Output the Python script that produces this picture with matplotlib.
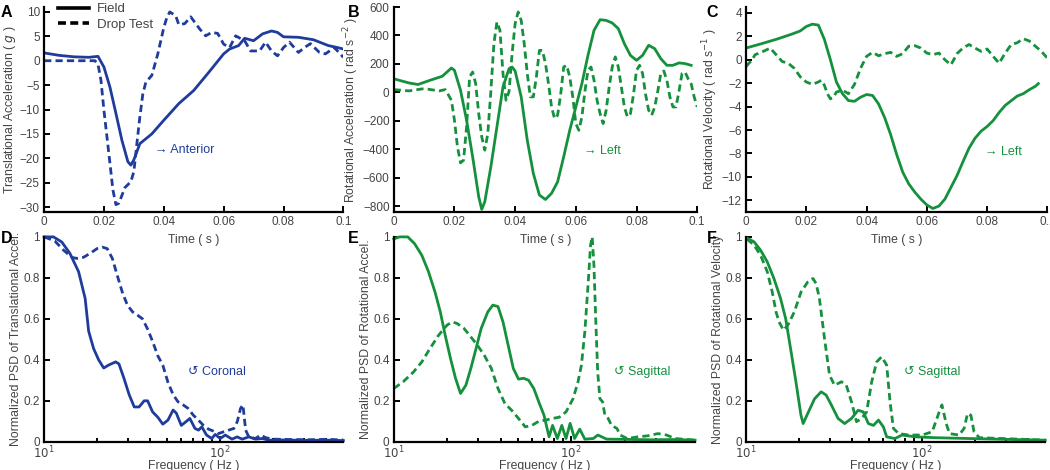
import matplotlib
matplotlib.use("Agg")
import matplotlib.pyplot as plt
from matplotlib.lines import Line2D
from matplotlib.ticker import FixedLocator, NullFormatter

plt.rcParams['font.family'] = ['Liberation Sans', 'DejaVu Sans']

# ---- data ----
# A: translational acceleration (g)
a_field_t = [0, 0.005, 0.01, 0.015, 0.018, 0.02, 0.022, 0.024, 0.026, 0.028, 0.029, 0.03, 0.032, 0.034,
             0.036, 0.04, 0.045, 0.05, 0.055, 0.06, 0.062, 0.065, 0.067, 0.07, 0.073, 0.076, 0.078, 0.08,
             0.085, 0.09, 0.095, 0.098, 0.1]
a_field = [1.6, 1.1, 0.8, 0.7, 0.9, -1.3, -5.4, -10.8, -16.3, -20.7, -21.4, -20.3, -17, -16,
           -15, -12.2, -8.8, -6.1, -2.4, 1.4, 2.4, 3.1, 4.6, 4.1, 5.5, 6.1, 5.8, 4.9,
           4.8, 4.3, 3.1, 2.7, 2.4]
a_drop_t = [0, 0.017, 0.018, 0.019, 0.02, 0.021, 0.022, 0.023, 0.024, 0.025, 0.027, 0.029, 0.03, 0.031,
            0.032, 0.033, 0.034, 0.036, 0.038, 0.04, 0.041, 0.042, 0.044, 0.045, 0.047, 0.049, 0.052,
            0.054, 0.056, 0.058, 0.06, 0.062, 0.064, 0.067, 0.069, 0.072, 0.074, 0.076, 0.078, 0.08,
            0.082, 0.085, 0.087, 0.089, 0.092, 0.094, 0.097, 0.1]
a_drop = [0, 0, -0.7, -4, -10.2, -15.6, -21, -26.5, -29.5, -29.2, -26, -24.8, -22.7, -17,
          -11.5, -6.8, -4.4, -3, 1.4, 6.8, 8.8, 10, 9.2, 7.4, 7.6, 9, 6.5,
          5.1, 5.8, 5.6, 3.4, 2.7, 5.1, 4.1, 2, 2, 3.8, 2, 1, 2.7,
          3.8, 1.7, 2.7, 3.5, 1.7, 1.4, 2.7, 0.7]

# B: rotational acceleration (rad s^-2)
b_field_t = [0, 0.005, 0.008, 0.012, 0.016, 0.019, 0.02, 0.022, 0.024, 0.026, 0.028, 0.029, 0.03, 0.032,
             0.034, 0.036, 0.038, 0.039, 0.04, 0.042, 0.044, 0.046, 0.048, 0.05, 0.052, 0.054, 0.056,
             0.058, 0.06, 0.062, 0.064, 0.066, 0.068, 0.07, 0.072, 0.074, 0.076, 0.078, 0.08, 0.082,
             0.084, 0.086, 0.088, 0.09, 0.092, 0.094, 0.096, 0.098]
b_field = [95, 66, 55, 85, 113, 171, 155, 15, -196, -454, -735, -824, -770, -524,
           -243, 38, 167, 178, 150, -32, -337, -571, -723, -754, -711, -630, -454,
           -267, -103, 61, 260, 436, 511, 506, 488, 448, 342, 260, 225, 260,
           331, 307, 237, 190, 190, 207, 202, 190]
b_drop_t = [0, 0.005, 0.01, 0.015, 0.017] + [round(0.019 + 0.001 * i, 3) for i in range(82)]
b_drop = [19, 10, 26, 10, 19,
          -56, -196, -384, -496, -478, -243, 108, 143, 61, -150,
          -314, -407, -290, 7, 342, 495, 436, 132, -56, 7,
          272, 483, 565, 506, 342, 132, -32, -32, 108, 295,
          295, 202, 61, -103, -185, -161, -16, 178, 190, 108,
          -32, -220, -267, -173, 7, 155, 178, 85, -56, -150,
          -220, -126, 38, 178, 249, 178, 38, -103, -173, -150,
          -16, 155, 190, 132, -16, -126, -161, -103, 7, 132,
          150, 85, -32, -103, -103, 7, 132, 143, 96, 61,
          -32, -103]
b_drop_t = b_drop_t[:len(b_drop)]

# C: rotational velocity (rad s^-1)
c_field_t = [0, 0.005, 0.01, 0.015, 0.018] + [round(0.02 + 0.002 * i, 3) for i in range(39)] + [0.097]
c_field = [1.0, 1.36, 1.74, 2.17, 2.46,
           2.84, 3.04, 2.96, 1.74, 0, -1.9, -2.9, -3.49, -3.55, -3.2,
           -2.97, -3.05, -3.78, -4.94, -6.4, -8.1, -9.6, -10.6, -11.3, -11.9,
           -12.4, -12.7, -12.5, -11.9, -10.9, -9.9, -8.7, -7.55, -6.7, -6.1,
           -5.7, -5.2, -4.5, -3.9, -3.5, -3.1, -2.9, -2.56, -2.27, -2.04]
c_field_t = c_field_t[:len(c_field)]
c_drop_t = [0, 0.002, 0.003, 0.005, 0.007, 0.008, 0.01, 0.012, 0.014, 0.016, 0.018, 0.02, 0.022, 0.024,
            0.025, 0.026, 0.027, 0.028, 0.029, 0.03] + [round(0.032 + 0.002 * i, 3) for i in range(35)]
c_drop = [-0.59, 0, 0.43, 0.63, 0.87, 1.0, 0.43, -0.15, -0.3, -0.73, -1.46, -1.9, -2.1, -1.9,
          -1.75, -2.18, -2.9, -3.34, -3.2, -2.76,
          -2.6, -2.9, -2.1, -0.73, 0.29, 0.63, 0.34, 0.52, 0.63, 0.29,
          0.52, 1.16, 1.2, 1.0, 0.57, 0.43, 0.57, 0, -0.44, 0.52,
          1.0, 1.3, 1.0, 0.72, 0.92, 0.29, -0.3, 0.57, 1.3, 1.45,
          1.8, 1.6, 1.16, 0.72, 0.14]
c_drop_t = c_drop_t[:len(c_drop)]

# D: normalized PSD of translational acceleration
d_field_f = [10, 11.3, 12.6, 14, 15.7, 17.1, 17.9, 19.1, 20.4, 21.8, 23.3, 25.5, 26.6, 28.4, 30.4, 32.5,
             34.6, 37, 38.7, 41.3, 44.2, 47.2, 50.5, 54, 56.3, 60.1, 64.3, 67.2, 71.9, 75.3, 78.6, 83.6,
             89.5, 93.6, 100, 106.8, 116.6, 124.7, 133.3, 145.3, 158.6, 173, 189, 230, 300, 400, 500]
d_field = [1.0, 1.0, 0.975, 0.92, 0.83, 0.70, 0.54, 0.455, 0.40, 0.36, 0.375, 0.39, 0.38, 0.31, 0.23, 0.17,
           0.17, 0.20, 0.20, 0.146, 0.12, 0.086, 0.106, 0.155, 0.14, 0.08, 0.1, 0.114, 0.065, 0.057, 0.073,
           0.033, 0.016, 0.036, 0.016, 0.033, 0.013, 0.024, 0.013, 0.024, 0.013, 0.016, 0.008, 0.009,
           0.007, 0.008, 0.006]
d_drop_f = [10, 11.5, 12.9, 14.4, 15.3, 16.7, 18.3, 20, 21.4, 22.8, 24.4, 26, 27.8, 29.7, 31.8, 33.9,
            36.2, 38.7, 41.3, 44.2, 47.2, 50.5, 54, 57.6, 61.6, 65.7, 70.3, 75.1, 80.3, 85.7, 91.6,
            97.9, 104.6, 111.8, 119.5, 124.9, 130.4, 134.5, 139.4, 145.3, 158.6, 169.7, 181.3, 198.3,
            250, 320, 400, 500]
d_drop = [1.0, 0.98, 0.935, 0.90, 0.895, 0.90, 0.92, 0.943, 0.95, 0.943, 0.895, 0.813, 0.73, 0.667,
          0.634, 0.618, 0.60, 0.55, 0.49, 0.42, 0.374, 0.29, 0.23, 0.195, 0.18, 0.163, 0.13, 0.106,
          0.08, 0.062, 0.052, 0.04, 0.049, 0.057, 0.065, 0.098, 0.163, 0.18, 0.057, 0.024, 0.016,
          0.033, 0.02, 0.013, 0.011, 0.01, 0.012, 0.009]

# E: normalized PSD of rotational acceleration
e_field_f = [10, 10.8, 12, 13.1, 14.4, 15.7, 17.1, 18.3, 19.5, 20.9, 22.3, 23.8, 25.5, 27.2, 29.1, 31.1,
             33.9, 36.2, 38.7, 41.3, 44.2, 47.2, 50.5, 54, 57.6, 61.6, 65.7, 70.3, 75.1, 78.6, 83.6,
             88.6, 93.6, 98.7, 104.6, 111.8, 119.5, 133.3, 141.5, 158.6, 200, 280, 380, 500]
e_field = [0.99, 1.0, 1.0, 0.967, 0.91, 0.83, 0.73, 0.634, 0.52, 0.406, 0.31, 0.236, 0.276, 0.358,
           0.455, 0.553, 0.634, 0.667, 0.66, 0.585, 0.47, 0.358, 0.306, 0.31, 0.30, 0.26, 0.195, 0.13,
           0.024, 0.08, 0.016, 0.08, 0.016, 0.09, 0.016, 0.062, 0.013, 0.016, 0.033, 0.013, 0.012,
           0.01, 0.011, 0.008]
e_drop_f = [10, 11.3, 12.9, 14.4, 16, 17.9, 20, 21.4, 22.8, 24.9, 27.2, 29.7, 32.5, 35.5, 38.7, 42.3,
            46.2, 50.5, 55.1, 60.1, 65.7, 71.9, 78.6, 85.7, 93.6, 102.5, 109.2, 114.3, 119.5, 124.9,
            128.7, 131.5, 134.5, 137.6, 141.2, 145.3, 150.5, 155, 161.7, 169, 181.3, 189, 207, 237,
            269, 309, 345, 385, 500]
e_drop = [0.26, 0.293, 0.34, 0.39, 0.455, 0.52, 0.57, 0.585, 0.577, 0.553, 0.512, 0.47, 0.42, 0.358,
          0.26, 0.187, 0.154, 0.114, 0.073, 0.08, 0.1, 0.106, 0.114, 0.12, 0.146, 0.21, 0.29, 0.374,
          0.537, 0.78, 0.96, 1.0, 0.86, 0.60, 0.34, 0.21, 0.195, 0.13, 0.114, 0.08, 0.065, 0.033,
          0.016, 0.024, 0.029, 0.04, 0.033, 0.016, 0.008]

# F: normalized PSD of rotational velocity
f_field_f = [10.1, 11.1, 12.1, 13.2, 14.4, 15.7, 16.8, 17.9, 19.2, 20.5, 21.1, 22.4, 24.5, 26.7, 28.5,
             30.5, 33.3, 36.3, 39.7, 43.3, 46.3, 49.5, 52.9, 56.5, 60.2, 62.9, 70, 76.9, 92, 119, 185, 300,
             500]
f_field = [0.995, 0.976, 0.935, 0.878, 0.797, 0.70, 0.60, 0.455, 0.293, 0.13, 0.089, 0.138, 0.21, 0.244,
           0.228, 0.18, 0.114, 0.089, 0.114, 0.154, 0.146, 0.089, 0.08, 0.106, 0.073, 0.024, 0.016,
           0.033, 0.024, 0.02, 0.016, 0.012, 0.008]
f_drop_f = [10.1, 11.1, 12.1, 13.2, 14.1, 14.8, 15.4, 16.3, 17.3, 18.8, 20.5, 22.4, 24, 25, 26.1, 27.9,
            29.8, 31.8, 34.8, 37.1, 39.7, 42.4, 45.3, 48.4, 51.7, 55.2, 58.9, 62.9, 65.7, 68.7, 73.6,
            83.8, 100, 114, 125, 129.5, 136.9, 143, 162, 173, 181, 189, 197, 211, 286, 500]
f_drop = [0.99, 0.96, 0.91, 0.83, 0.73, 0.634, 0.585, 0.545, 0.57, 0.634, 0.73, 0.78, 0.797, 0.772,
          0.70, 0.504, 0.325, 0.276, 0.293, 0.276, 0.195, 0.098, 0.114, 0.146, 0.293, 0.39, 0.415,
          0.374, 0.195, 0.065, 0.04, 0.033, 0.033, 0.049, 0.146, 0.18, 0.089, 0.04, 0.033, 0.065,
          0.138, 0.13, 0.049, 0.02, 0.016, 0.008]

time_ticks = [0, 0.02, 0.04, 0.06, 0.08, 0.1]
time_labels = ['0', '0.02', '0.04', '0.06', '0.08', '0.1']
a_yticks = [-30, -25, -20, -15, -10, -5, 0, 5, 10]
b_yticks = [-800, -600, -400, -200, 0, 200, 400, 600]
c_yticks = [-12, -10, -8, -6, -4, -2, 0, 2, 4]
psd_yticks = [0, 0.2, 0.4, 0.6, 0.8, 1]
psd_ylabels = ['0', '0.2', '0.4', '0.6', '0.8', '1']

blue = '#1f3c9c'
green = '#15913d'
txt = '#444444'
lw = 2.0
dash = (2.6, 1.5)
tick_fs = 8.5
lab_fs = 8.8
ann_fs = 9

fig = plt.figure(figsize=(10.5, 4.7), dpi=100)

def style(ax):
    ax.patch.set_visible(False)
    for s in ['top', 'right']:
        ax.spines[s].set_visible(False)
    for s in ['left', 'bottom']:
        ax.spines[s].set_linewidth(1.6)
    ax.tick_params(which='both', direction='in', colors='black', labelcolor=txt,
                   labelsize=tick_fs, width=1.4, pad=3)
    ax.tick_params(which='major', length=4)
    ax.tick_params(which='minor', length=3)

def time_axis(ax):
    ax.set_xlim(0, 0.1)
    ax.set_xticks(time_ticks)
    ax.set_xticklabels(time_labels)
    ax.set_xlabel('Time ( s )', fontsize=lab_fs, color=txt, labelpad=4)

def freq_axis(ax):
    ax.set_xscale('log')
    ax.set_xlim(10, 500)
    ax.xaxis.set_major_locator(FixedLocator([10, 100]))
    ax.set_xticklabels(['$10^1$', '$10^2$'])
    ax.xaxis.set_minor_locator(FixedLocator([20, 30, 40, 50, 60, 70, 80, 90, 200, 300, 400]))
    ax.xaxis.set_minor_formatter(NullFormatter())
    ax.tick_params(axis='x', pad=2)
    ax.set_ylim(0, 1)
    ax.set_yticks(psd_yticks)
    ax.set_yticklabels(psd_ylabels)
    ax.set_xlabel('Frequency ( Hz )', fontsize=lab_fs, color=txt, labelpad=-1)

def minus(vals):
    return [str(v).replace('-', '\u2212') for v in vals]

top_y, top_h = 0.549, 0.436
bot_y, bot_h = 0.060, 0.436

# A
ax = fig.add_axes([0.042, top_y, 0.285, top_h])
style(ax)
ax.plot(a_field_t, a_field, color=blue, lw=lw)
ax.plot(a_drop_t, a_drop, color=blue, lw=lw, dashes=dash)
time_axis(ax)
ax.set_ylim(-31, 11)
ax.set_yticks(a_yticks)
ax.set_yticklabels(minus(a_yticks))
ax.set_ylabel('Translational Acceleration ( $g$ )', fontsize=lab_fs, color=txt, labelpad=1)
ax.text(0.037, -18.3, '\u2192 Anterior', color=blue, fontsize=ann_fs, va='center')
handles = [Line2D([], [], color='black', lw=2.6), Line2D([], [], color='black', lw=2.6, dashes=(2.2, 1.2))]
ax.legend(handles, ['Field', 'Drop Test'], loc='upper left', bbox_to_anchor=(0.03, 1.045),
          frameon=False, fontsize=9.5, handlelength=2.3, labelspacing=0.25, handletextpad=0.6,
          borderaxespad=0, labelcolor=txt)

# B
ax = fig.add_axes([0.375, top_y, 0.289, top_h])
style(ax)
ax.plot(b_field_t, b_field, color=green, lw=lw)
ax.plot(b_drop_t, b_drop, color=green, lw=lw, dashes=dash)
time_axis(ax)
ax.set_ylim(-842, 600)
ax.set_yticks(b_yticks)
ax.set_yticklabels(minus(b_yticks))
ax.set_ylabel('Rotational Acceleration ( rad s$^{-2}$ )', fontsize=lab_fs, color=txt, labelpad=1)
ax.text(0.0626, -412, '\u2192 Left', color=green, fontsize=ann_fs, va='center')

# C
ax = fig.add_axes([0.7105, top_y, 0.287, top_h])
style(ax)
ax.plot(c_field_t, c_field, color=green, lw=lw)
ax.plot(c_drop_t, c_drop, color=green, lw=lw, dashes=dash)
time_axis(ax)
ax.set_ylim(-13, 4.5)
ax.set_yticks(c_yticks)
ax.set_yticklabels(minus(c_yticks))
ax.set_ylabel('Rotational Velocity ( rad s$^{-1}$ )', fontsize=lab_fs, color=txt, labelpad=1)
ax.text(0.0794, -7.9, '\u2192 Left', color=green, fontsize=ann_fs, va='center')

# D
ax = fig.add_axes([0.042, bot_y, 0.285, bot_h])
style(ax)
ax.plot(d_field_f, d_field, color=blue, lw=lw, clip_on=False)
ax.plot(d_drop_f, d_drop, color=blue, lw=lw, dashes=dash, clip_on=False)
freq_axis(ax)
ax.set_ylabel('Normalized PSD of Translational Accel.', fontsize=lab_fs, color=txt, labelpad=1)
ax.text(65.7, 0.34, '\u21ba Coronal', color=blue, fontsize=ann_fs, va='center')

# E
ax = fig.add_axes([0.375, bot_y, 0.287, bot_h])
style(ax)
ax.plot(e_field_f, e_field, color=green, lw=lw, clip_on=False)
ax.plot(e_drop_f, e_drop, color=green, lw=lw, dashes=dash, clip_on=False)
freq_axis(ax)
ax.set_ylabel('Normalized PSD of Rotational Accel.', fontsize=lab_fs, color=txt, labelpad=1)
ax.text(174, 0.34, '\u21ba Sagittal', color=green, fontsize=ann_fs, va='center')

# F
ax = fig.add_axes([0.7105, bot_y, 0.285, bot_h])
style(ax)
ax.plot(f_field_f, f_field, color=green, lw=lw, clip_on=False)
ax.plot(f_drop_f, f_drop, color=green, lw=lw, dashes=dash, clip_on=False)
freq_axis(ax)
ax.set_ylabel('Normalized PSD of Rotational Velocity', fontsize=lab_fs, color=txt, labelpad=1)
ax.text(78.6, 0.34, '\u21ba Sagittal', color=green, fontsize=ann_fs, va='center')

# panel letters
for x, y, s in [(0.001, 0.99, 'A'), (0.331, 0.99, 'B'), (0.673, 0.99, 'C'),
                (0.001, 0.508, 'D'), (0.331, 0.508, 'E'), (0.673, 0.508, 'F')]:
    fig.text(x, y, s, fontsize=11.5, fontweight='bold', va='top')

fig.savefig('out.png', dpi=100)
